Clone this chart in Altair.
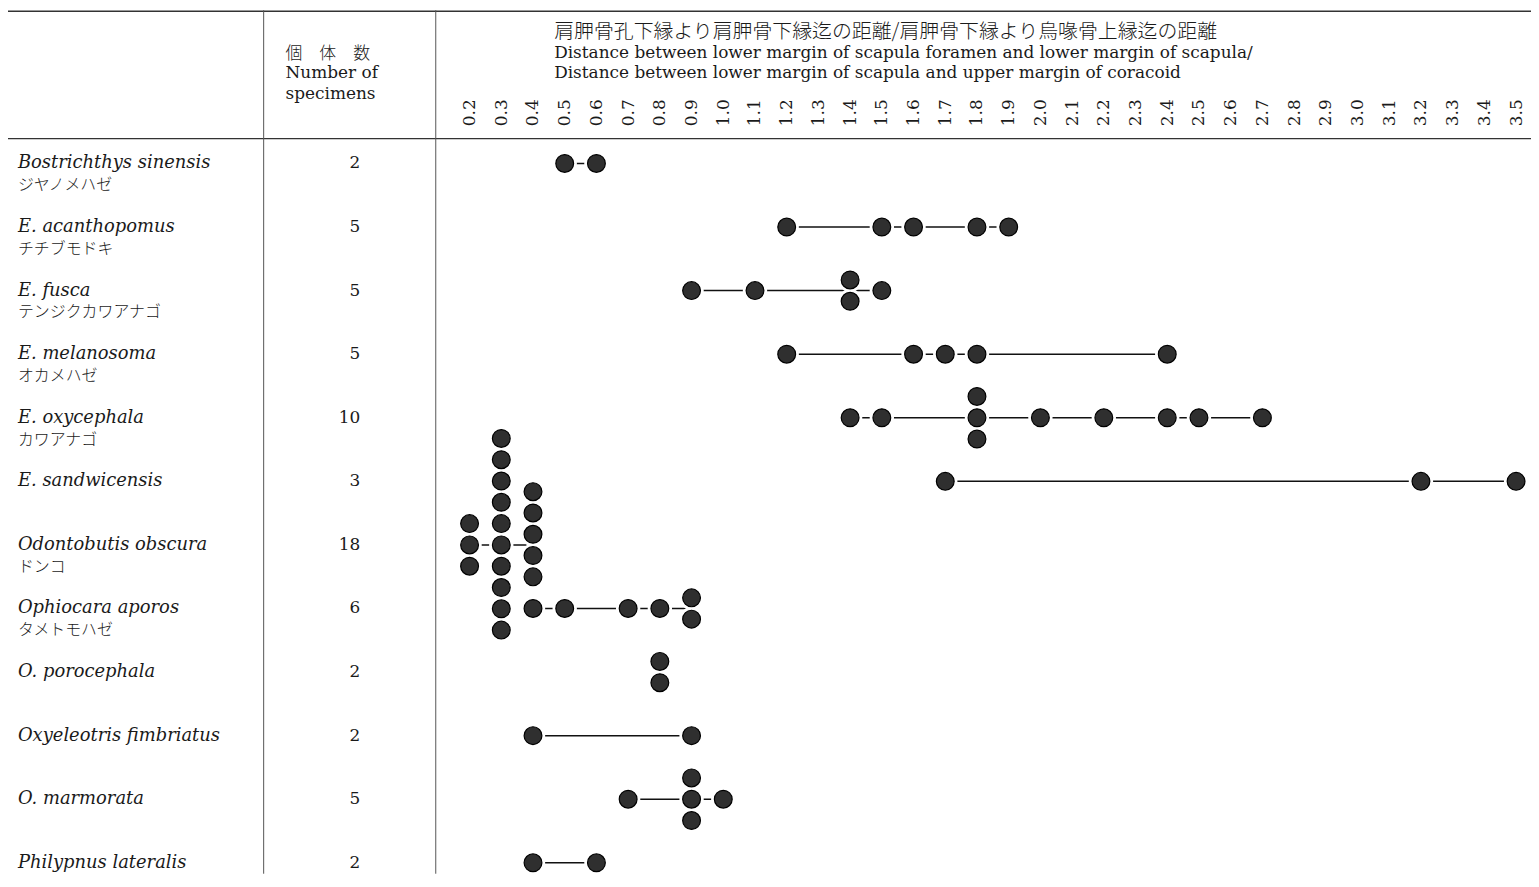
import altair as alt
import pandas as pd

# ---------------- data ----------------
species = [
    "Bostrichthys sinensis", "E. acanthopomus", "E. fusca", "E. melanosoma",
    "E. oxycephala", "E. sandwicensis", "Odontobutis obscura", "Ophiocara aporos",
    "O. porocephala", "Oxyeleotris fimbriatus", "O. marmorata", "Philypnus lateralis",
]
japanese = [
    "ジヤノメハゼ", "チチブモドキ", "テンジクカワアナゴ", "オカメハゼ",
    "カワアナゴ", "", "ドンコ", "タメトモハゼ", "", "", "", "",
]
counts = [2, 5, 5, 5, 10, 3, 18, 6, 2, 2, 5, 2]
ratios = [
    [0.5, 0.6],
    [1.2, 1.5, 1.6, 1.8, 1.9],
    [0.9, 1.1, 1.4, 1.4, 1.5],
    [1.2, 1.6, 1.7, 1.8, 2.4],
    [1.4, 1.5, 1.8, 1.8, 1.8, 2.0, 2.2, 2.4, 2.5, 2.7],
    [1.7, 3.2, 3.5],
    [0.2, 0.2, 0.2,
     0.3, 0.3, 0.3, 0.3, 0.3, 0.3, 0.3, 0.3, 0.3, 0.3,
     0.4, 0.4, 0.4, 0.4, 0.4],
    [0.4, 0.5, 0.7, 0.8, 0.9, 0.9],
    [0.8, 0.8],
    [0.4, 0.9],
    [0.7, 0.9, 0.9, 0.9, 1.0],
    [0.4, 0.6],
]
tick_values = [0.2, 0.3, 0.4, 0.5, 0.6, 0.7, 0.8, 0.9, 1.0, 1.1, 1.2, 1.3, 1.4,
               1.5, 1.6, 1.7, 1.8, 1.9, 2.0, 2.1, 2.2, 2.3, 2.4, 2.5, 2.6, 2.7,
               2.8, 2.9, 3.0, 3.1, 3.2, 3.3, 3.4, 3.5]
count_header = ["個　体　数", "Number of", "specimens"]
ratio_header = [
    "肩胛骨孔下縁より肩胛骨下縁迄の距離/肩胛骨下縁より烏喙骨上縁迄の距離",
    "Distance between lower margin of scapula foramen and lower margin of scapula/",
    "Distance between lower margin of scapula and upper margin of coracoid",
]

# ---------------- tables built from the data ----------------
STEP = 0.335  # vertical spacing of stacked dots, in row units
dot_rows = []
for i, vals in enumerate(ratios):
    groups = {}
    for v in vals:
        groups[v] = groups.get(v, 0) + 1
    for v, c in groups.items():
        lift = 0.5 if c > 3 else 0.0
        for k in range(c):
            off = k - (c - 1) / 2 - lift
            dot_rows.append({"species": species[i], "row": i, "ratio": v,
                             "ypos": i + off * STEP})
dots = pd.DataFrame(dot_rows)

line_rows = []
for i, vals in enumerate(ratios):
    if max(vals) > min(vals):
        line_rows.append({"row": i, "lo": min(vals), "hi": max(vals)})
lines = pd.DataFrame(line_rows)

names = pd.DataFrame({"row": list(range(len(species))), "species": species,
                      "jp": japanese, "n": [str(c) for c in counts]})

# ---------------- layout ----------------
W, H = 1531, 868
SERIF = "DejaVu Serif, Noto Sans CJK JP"
JP = "Noto Sans CJK JP"
INK = "#1a1a1a"

xscale = alt.Scale(domain=[0.2, 3.5], range=[464, 1516], nice=False, zero=False)
yscale = alt.Scale(domain=[0, 11], range=[154, 857], nice=False, zero=False)
xaxis = alt.Axis(orient="top", offset=-116, values=tick_values, format=".1f",
                 labelAngle=270, labelAlign="left", labelBaseline="middle",
                 labelPadding=0, ticks=False, tickSize=0, domain=False, grid=False,
                 title=None, labelFont="DejaVu Serif", labelFontSize=17,
                 labelColor=INK, labelOverlap=False, labelFlush=False)

one = pd.DataFrame({"a": [0]})

def hrule(y):
    return alt.Chart(one).mark_rule(color="#333", strokeWidth=1.4).encode(
        x=alt.value(0), x2=alt.value(W), y=alt.value(y))

def vrule(x):
    return alt.Chart(one).mark_rule(color="#555", strokeWidth=1).encode(
        x=alt.value(x), y=alt.value(0), y2=alt.value(H))

def label(text, x, y, size, font=SERIF, weight="normal"):
    return alt.Chart(pd.DataFrame({"t": [text]})).mark_text(
        align="left", baseline="middle", font=font, fontSize=size,
        fontWeight=weight, color=INK).encode(
        x=alt.value(x), y=alt.value(y), text="t:N")

layers = [
    hrule(1), hrule(129), vrule(257), vrule(430),
    label(count_header[0], 279, 44, 17, font=JP, weight=300),
    label(count_header[1], 279, 63, 17),
    label(count_header[2], 279, 84, 17),
    label(ratio_header[0], 549, 22, 20, font=JP, weight=300),
    label(ratio_header[1], 549, 43, 17),
    label(ratio_header[2], 549, 63, 17),
]

name_layer = alt.Chart(names).mark_text(
    align="left", baseline="middle", font="DejaVu Serif", fontStyle="italic",
    fontSize=18, color=INK).encode(
    x=alt.value(10), y=alt.Y("row:Q", scale=yscale, axis=None), text="species:N")
jp_layer = alt.Chart(names).mark_text(
    align="left", baseline="middle", font=JP, fontWeight=300, fontSize=16,
    color=INK, yOffset=22).encode(
    x=alt.value(10), y=alt.Y("row:Q", scale=yscale, axis=None), text="jp:N")
n_layer = alt.Chart(names).mark_text(
    align="right", baseline="middle", font="DejaVu Serif", fontSize=17,
    color=INK).encode(
    x=alt.value(354), y=alt.Y("row:Q", scale=yscale, axis=None), text="n:N")

line_layer = alt.Chart(lines).mark_rule(color="#111", strokeWidth=1.5).encode(
    x=alt.X("lo:Q", scale=xscale, axis=xaxis), x2="hi:Q",
    y=alt.Y("row:Q", scale=yscale, axis=None))
halo_layer = alt.Chart(dots).mark_circle(size=600, color="white", opacity=1).encode(
    x=alt.X("ratio:Q", scale=xscale, axis=xaxis),
    y=alt.Y("ypos:Q", scale=yscale, axis=None))
dot_layer = alt.Chart(dots).mark_circle(
    size=320, color="#2f2f2f", opacity=1, stroke="#000", strokeWidth=1.2).encode(
    x=alt.X("ratio:Q", scale=xscale, axis=xaxis),
    y=alt.Y("ypos:Q", scale=yscale, axis=None),
    tooltip=["species:N", "ratio:Q"])

chart = alt.layer(*layers, name_layer, jp_layer, n_layer,
                  line_layer, halo_layer, dot_layer).properties(
    width=W, height=H, autosize="none", padding=0, background="white",
).configure_view(stroke=None)

chart.save("out.html", embed_options={"renderer": "svg", "actions": False})
